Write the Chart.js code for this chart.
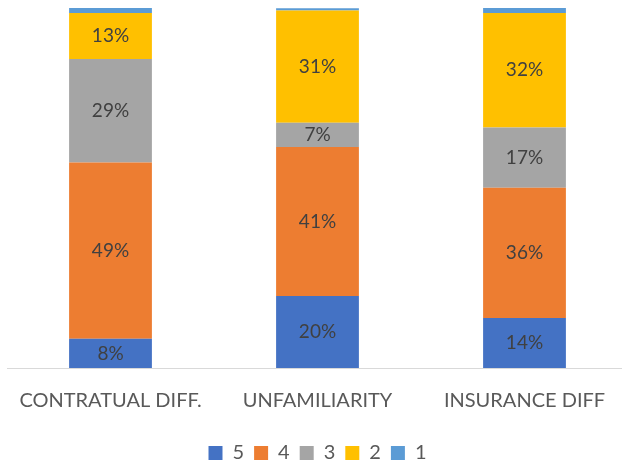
<!DOCTYPE html>
<html>
<head>
<meta charset="utf-8">
<script src="https://cdn.jsdelivr.net/npm/chart.js@4"></script>
<style>
  html, body { margin: 0; padding: 0; background: #fff; overflow: hidden; }
  #wrap { position: relative; width: 628px; height: 473px; }
</style>
</head>
<body>
<div id="wrap"><canvas id="chart"></canvas></div>
<script>
const categories = ["CONTRATUAL DIFF.", "UNFAMILIARITY", "INSURANCE DIFF"];
const seriesNames = ["5", "4", "3", "2", "1"];
const s5 = [8.1, 20, 13.9];
const s4 = [49, 41.4, 36.2];
const s3 = [28.7, 6.7, 16.7];
const s2 = [12.8, 31.2, 31.8];
const s1 = [1.4, 0.6, 1.4];
const colors = ["#4472C4", "#ED7D31", "#A5A5A5", "#FFC000", "#5B9BD5"];

const FONT = "Lato, 'Open Sans', sans-serif";

// draws the % labels in the middle of each segment (skip series "1")
const segLabels = {
  id: "segLabels",
  afterDatasetsDraw(chart) {
    const ctx = chart.ctx;
    ctx.save();
    ctx.font = "19px " + FONT;
    ctx.fillStyle = "#404040";
    ctx.textAlign = "center";
    ctx.textBaseline = "middle";
    chart.data.datasets.forEach((ds, i) => {
      if (ds.label === "1") return;
      chart.getDatasetMeta(i).data.forEach((bar, j) => {
        const mid = (bar.y + bar.base) / 2;
        ctx.fillText(Math.round(ds.data[j]) + "%", bar.x, mid);
      });
    });
    ctx.restore();
  }
};

new Chart(document.getElementById("chart"), {
  type: "bar",
  data: {
    labels: categories,
    datasets: [s5, s4, s3, s2, s1].map((d, i) => ({
      label: seriesNames[i],
      data: d,
      backgroundColor: colors[i],
      borderWidth: 0,
      barPercentage: 0.4,
      categoryPercentage: 1
    }))
  },
  options: {
    responsive: true,
    maintainAspectRatio: false,
    animation: false,
    layout: { padding: { left: 7, right: 0, top: 8, bottom: 0 } },
    scales: {
      x: {
        stacked: true,
        grid: { display: false },
        border: { color: "#D9D9D9", width: 1 },
        ticks: { color: "#595959", font: { size: 20, family: FONT }, padding: 13 },
        afterFit: (scale) => { scale.height = 65; }
      },
      y: {
        stacked: true,
        display: false,
        min: 0,
        max: 100
      }
    },
    plugins: {
      legend: {
        position: "bottom",
        labels: {
          color: "#595959",
          font: { size: 20, family: FONT },
          boxWidth: 14,
          boxHeight: 14,
          padding: 10
        }
      },
      tooltip: { enabled: false }
    }
  },
  plugins: [segLabels]
});
</script>
</body>
</html>
